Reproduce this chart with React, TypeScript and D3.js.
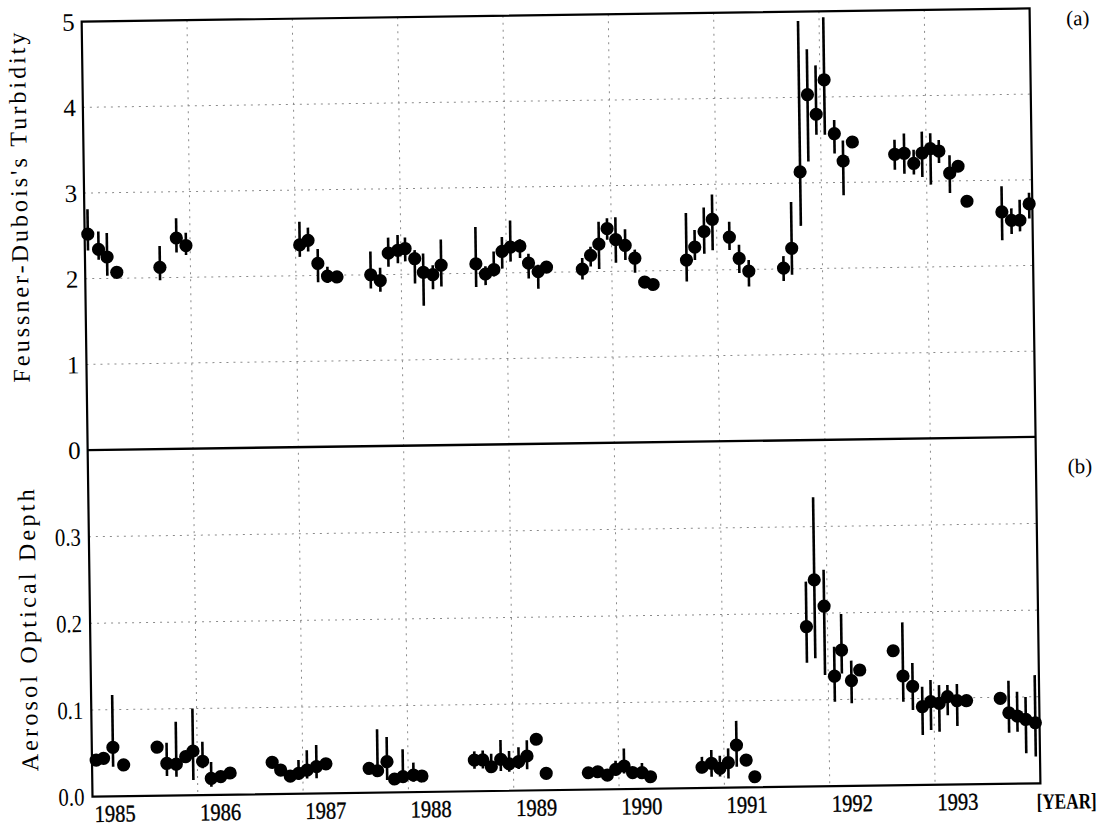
import React from "react";
import * as d3 from "d3";

// ---- Panel (a): Feussner-Dubois's turbidity ----
const turbDate = [1985.03,1985.13,1985.21,1985.30,1985.71,1985.87,1985.96,1987.04,1987.12,1987.21,1987.30,1987.39,1987.71,1987.80,1987.88,1987.97,1988.04,1988.13,1988.21,1988.30,1988.38,1988.71,1988.80,1988.88,1988.96,1989.04,1989.13,1989.21,1989.30,1989.38,1989.72,1989.80,1989.88,1989.96,1990.04,1990.13,1990.22,1990.31,1990.39,1990.71,1990.79,1990.88,1990.96,1991.12,1991.21,1991.30,1991.63,1991.71,1991.80,1991.88,1991.96,1992.04,1992.13,1992.21,1992.30,1992.70,1992.79,1992.88,1992.96,1993.04,1993.12,1993.22,1993.30,1993.38,1993.71,1993.80,1993.88,1993.97];
const turbValue = [2.52,2.34,2.25,2.07,2.12,2.46,2.37,2.36,2.41,2.14,1.99,1.98,2.00,1.93,2.25,2.28,2.30,2.18,2.02,1.99,2.10,2.11,1.99,2.04,2.25,2.30,2.31,2.11,2.01,2.06,2.03,2.19,2.32,2.50,2.37,2.30,2.15,1.87,1.84,2.12,2.27,2.45,2.59,2.38,2.13,1.98,2.01,2.24,3.13,4.03,3.80,4.20,3.57,3.25,3.47,3.32,3.33,3.21,3.33,3.38,3.35,3.09,3.17,2.76,2.63,2.53,2.53,2.72];
const turbLow = [2.33,2.22,2.03,2.07,1.97,2.29,2.26,2.22,2.28,1.92,1.91,1.98,1.84,1.80,2.09,2.13,2.15,1.89,1.63,1.82,1.85,1.84,1.86,1.96,2.05,2.13,2.17,1.93,1.81,2.06,1.91,2.06,2.03,2.37,2.10,2.13,1.98,1.87,1.84,1.87,2.12,2.19,2.23,2.23,1.96,1.80,1.86,1.93,2.50,3.25,3.56,3.56,3.34,2.85,3.47,3.14,3.09,3.08,3.05,2.96,3.21,2.86,3.17,2.76,2.30,2.37,2.40,2.55];
const turbHigh = [2.81,2.55,2.53,2.07,2.37,2.69,2.52,2.63,2.56,2.31,2.10,1.98,2.27,2.08,2.43,2.46,2.43,2.28,2.24,2.10,2.40,2.54,2.08,2.25,2.42,2.61,2.39,2.22,2.09,2.06,2.16,2.29,2.58,2.62,2.63,2.49,2.25,1.87,1.84,2.67,2.47,2.73,2.88,2.56,2.29,2.11,2.15,2.78,4.89,4.56,4.37,4.93,3.73,3.49,3.47,3.49,3.56,3.37,3.58,3.56,3.48,3.30,3.17,2.76,2.93,2.67,2.77,2.85];

// ---- Panel (b): aerosol optical depth ----
const aodDate = [1985.04,1985.11,1985.20,1985.30,1985.62,1985.71,1985.80,1985.89,1985.96,1986.05,1986.13,1986.22,1986.31,1986.71,1986.79,1986.88,1986.96,1987.04,1987.13,1987.22,1987.63,1987.71,1987.80,1987.87,1987.95,1988.05,1988.13,1988.63,1988.71,1988.79,1988.88,1988.96,1989.05,1989.13,1989.22,1989.31,1989.71,1989.80,1989.89,1989.97,1990.05,1990.13,1990.22,1990.30,1990.79,1990.88,1990.96,1991.04,1991.12,1991.21,1991.29,1991.80,1991.88,1991.97,1992.06,1992.13,1992.22,1992.30,1992.62,1992.71,1992.80,1992.89,1992.97,1993.05,1993.13,1993.22,1993.31,1993.63,1993.71,1993.79,1993.87,1993.96];
const aodValue = [0.042,0.044,0.0565,0.036,0.056,0.037,0.036,0.0445,0.051,0.039,0.019,0.021,0.025,0.0366,0.0276,0.0205,0.0235,0.027,0.031,0.034,0.028,0.0252,0.0355,0.0154,0.018,0.0197,0.0184,0.036,0.036,0.028,0.0364,0.031,0.0334,0.0398,0.059,0.0195,0.0195,0.0205,0.0165,0.023,0.0267,0.019,0.0187,0.0139,0.024,0.0284,0.0225,0.0289,0.049,0.0316,0.0122,0.1846,0.2385,0.208,0.127,0.157,0.1216,0.1337,0.1554,0.1261,0.114,0.0904,0.096,0.094,0.1015,0.0967,0.0966,0.0988,0.082,0.078,0.074,0.070];
const aodLow = [0.042,0.044,0.034,0.036,0.056,0.0225,0.0215,0.0445,0.0175,0.031,0.0095,0.021,0.025,0.0366,0.0276,0.0205,0.016,0.0175,0.0175,0.034,0.028,0.018,0.0143,0.0154,0.012,0.012,0.0184,0.026,0.026,0.021,0.023,0.022,0.025,0.0245,0.059,0.0195,0.0195,0.0205,0.0165,0.016,0.018,0.019,0.014,0.0139,0.017,0.013,0.013,0.0107,0.024,0.0316,0.0122,0.143,0.148,0.1285,0.0976,0.130,0.0954,0.1337,0.1554,0.0964,0.0867,0.0577,0.0633,0.0612,0.080,0.0675,0.0966,0.0988,0.059,0.060,0.035,0.031];
const aodHigh = [0.042,0.044,0.117,0.036,0.056,0.061,0.085,0.0445,0.100,0.0615,0.038,0.021,0.025,0.0366,0.0276,0.0205,0.039,0.050,0.056,0.034,0.028,0.073,0.064,0.0154,0.0495,0.034,0.0184,0.046,0.047,0.043,0.0587,0.046,0.050,0.058,0.059,0.0195,0.0195,0.0205,0.0165,0.033,0.047,0.019,0.030,0.0139,0.036,0.0438,0.037,0.0454,0.077,0.0316,0.0122,0.2366,0.334,0.25,0.161,0.1987,0.1447,0.1337,0.1554,0.188,0.141,0.1135,0.121,0.115,0.115,0.116,0.0966,0.0988,0.119,0.106,0.100,0.125];

const yearTicks = [1985,1986,1987,1988,1989,1990,1991,1992,1993];
const turbTicks = [0,1,2,3,4,5];
const aodTicks = [0.0,0.1,0.2,0.3];

const W = 1114, H = 828;
const L = 87, R = 1035, T = 15, MID = 443.5, B = 790;

export default function App() {
  const x = d3.scaleLinear().domain([1985, 1994]).range([L, R]);
  const yA = d3.scaleLinear().domain([0, 5]).range([MID, T]);
  const yB = d3.scaleLinear().domain([0, 0.4]).range([B, MID]);
  const grid = { stroke: "#8a8a8a", strokeWidth: 1, strokeDasharray: "2 5" };
  const serif = "'Liberation Serif', 'Times New Roman', serif";
  const num = { fontFamily: serif, fontSize: 25, fill: "#000" } as const;

  const panel = (dates: number[], vals: number[], lo: number[], hi: number[], y: d3.ScaleLinear<number, number>) =>
    dates.map((d, i) => (
      <g key={i}>
        {hi[i] - lo[i] > 1e-9 && (
          <line x1={x(d)} x2={x(d)} y1={y(lo[i])} y2={y(hi[i])} stroke="#000" strokeWidth={2.6} />
        )}
        <circle cx={x(d)} cy={y(vals[i])} r={6.6} fill="#000" />
      </g>
    ));

  return (
    <svg width={W} height={H} style={{ position: "absolute", left: 0, top: 0, background: "#fff" }}>
      <rect x={0} y={0} width={W} height={H} fill="#fff" />
      <g transform="rotate(-0.8, 560, 400)">
        {/* grid */}
        {yearTicks.slice(1).map((yr) => (
          <line key={"v" + yr} x1={x(yr)} x2={x(yr)} y1={T} y2={B} {...grid} />
        ))}
        {turbTicks.filter((t) => t > 0 && t < 5).map((t) => (
          <line key={"ha" + t} x1={L} x2={R} y1={yA(t)} y2={yA(t)} {...grid} />
        ))}
        {aodTicks.filter((t) => t > 0).map((t) => (
          <line key={"hb" + t} x1={L} x2={R} y1={yB(t)} y2={yB(t)} {...grid} />
        ))}

        {/* data */}
        {panel(turbDate, turbValue, turbLow, turbHigh, yA)}
        {panel(aodDate, aodValue, aodLow, aodHigh, yB)}

        {/* frame */}
        <rect x={L} y={T} width={R - L} height={B - T} fill="none" stroke="#000" strokeWidth={2.2} />
        <line x1={L} x2={R} y1={MID} y2={MID} stroke="#000" strokeWidth={2.4} />

        {/* y tick labels */}
        {turbTicks.map((t) => (
          <text key={"ta" + t} x={80} y={yA(t)} dy="0.35em" textAnchor="end" {...num}>
            {t}
          </text>
        ))}
        {aodTicks.map((t) => (
          <text key={"tb" + t} x={79} y={yB(t)} dy="0.35em" textAnchor="end" {...num} textLength={26} lengthAdjust="spacingAndGlyphs">
            {t.toFixed(1)}
          </text>
        ))}

        {/* x tick labels */}
        {yearTicks.map((yr) => (
          <text key={"x" + yr} x={x(yr) + 2} y={807} dy="0.35em" textAnchor="start" {...num} fontSize={24}
            stroke="#000" strokeWidth={0.4} textLength={41} lengthAdjust="spacingAndGlyphs">
            {yr}
          </text>
        ))}
        <text x={1061} y={808} dy="0.35em" textAnchor="middle" fontFamily={serif} fontSize={22} fontWeight="bold"
          textLength={60} lengthAdjust="spacingAndGlyphs">
          [YEAR]
        </text>

        {/* panel labels */}
        <text x={1083} y={25} dy="0.35em" textAnchor="middle" fontFamily={serif} fontSize={21}>(a)</text>
        <text x={1079} y={473} dy="0.35em" textAnchor="middle" fontFamily={serif} fontSize={21}>(b)</text>

        {/* axis titles */}
        <text transform="translate(30,200) rotate(-90)" textAnchor="middle" fontFamily={serif} fontSize={24}
          textLength={350} lengthAdjust="spacing">
          Feussner-Dubois's Turbidity
        </text>
        <text transform="translate(33,623) rotate(-90)" textAnchor="middle" fontFamily={serif} fontSize={24}
          textLength={282} lengthAdjust="spacing">
          Aerosol Optical Depth
        </text>
      </g>
    </svg>
  );
}
